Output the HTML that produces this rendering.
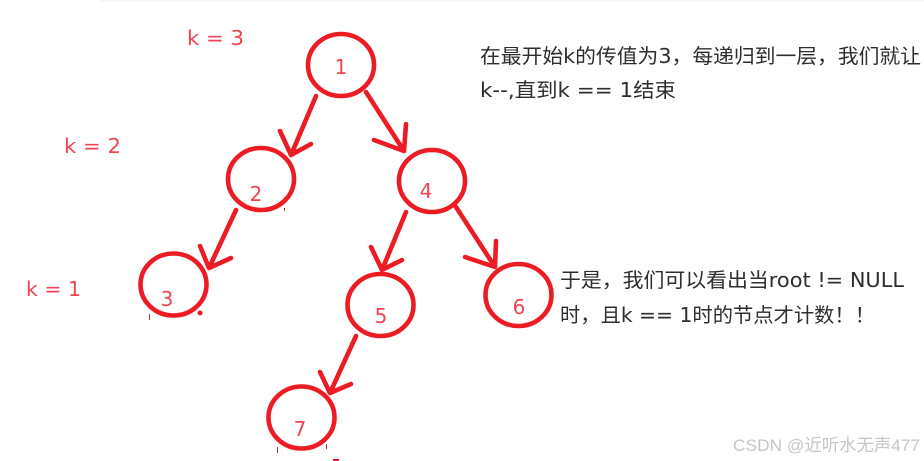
<!DOCTYPE html>
<html><head><meta charset="utf-8">
<style>
html,body{margin:0;padding:0;background:#fff;width:924px;height:461px;overflow:hidden}
svg{display:block}
.r{font-family:"DejaVu Sans","Liberation Sans",sans-serif;fill:#ef4452}
.b{font-family:"DejaVu Sans","Noto Sans CJK SC",sans-serif;fill:#2e2e2e;font-size:20px}
.w{font-family:"Liberation Sans","Noto Sans CJK SC",sans-serif;fill:#c6c6c6;font-size:17px}
</style></head><body>
<svg width="924" height="461" viewBox="0 0 924 461" xmlns="http://www.w3.org/2000/svg">
<defs><filter id="s" x="-5%" y="-20%" width="110%" height="140%"><feGaussianBlur stdDeviation="0.3"/></filter></defs>
<rect x="100" y="0" width="824" height="2" fill="#f6f6f6"/>
<g fill="none" stroke="#ed1c24" stroke-width="4.6" stroke-linecap="round" stroke-linejoin="round">
<ellipse cx="341" cy="65" rx="33" ry="31"/>
<ellipse cx="261" cy="179" rx="33" ry="31"/>
<ellipse cx="432" cy="181" rx="33" ry="31"/>
<ellipse cx="173.500" cy="284.500" rx="33" ry="31"/>
<ellipse cx="380.500" cy="305" rx="33" ry="31"/>
<ellipse cx="301.500" cy="417.500" rx="33" ry="31"/>
<ellipse cx="518.500" cy="295" rx="33" ry="31"/>
<path d="M316 96L291 155M280 131L291 155L311 144"/>
<path d="M366 92L404 151M406 124L404 151L374 140"/>
<path d="M236 210L209 268M200 246L209 268L231 258"/>
<path d="M406 212L382 270M371 247L382 270L402 260"/>
<path d="M456 207L495 267M496 241L495 267L465 257"/>
<path d="M356 336L330 393M320 372L330 393L351 384"/>
</g>
<g fill="#ed1c24">
<rect x="149" y="314" width="1" height="6"/>
<circle cx="200" cy="313" r="2.500"/>
<rect x="284" y="208" width="1" height="3"/>
<rect x="277" y="447" width="1" height="6"/>
<rect x="326" y="444" width="1" height="5"/>
<rect x="333" y="459" width="6" height="2"/>
</g>
<g class="r" filter="url(#s)">
<text x="187" y="45" font-size="20" textLength="57" lengthAdjust="spacingAndGlyphs">k = 3</text>
<text x="64" y="153" font-size="20" textLength="57" lengthAdjust="spacingAndGlyphs">k = 2</text>
<text x="26" y="296" font-size="20" textLength="55" lengthAdjust="spacingAndGlyphs">k = 1</text>
<text x="341" y="74" font-size="20" text-anchor="middle">1</text>
<text x="256" y="201" font-size="20" text-anchor="middle">2</text>
<text x="426" y="198" font-size="20" text-anchor="middle">4</text>
<text x="167" y="306" font-size="20" text-anchor="middle">3</text>
<text x="381" y="323" font-size="20" text-anchor="middle">5</text>
<text x="300" y="436" font-size="20" text-anchor="middle">7</text>
<text x="519" y="314" font-size="20" text-anchor="middle">6</text>
</g>
<g class="b" filter="url(#s)">
<text x="480" y="63" textLength="441" lengthAdjust="spacingAndGlyphs">在最开始k的传值为3，每递归到一层，我们就让</text>
<text x="480" y="97" textLength="196" lengthAdjust="spacingAndGlyphs">k--,直到k == 1结束</text>
<text x="560" y="287" textLength="344" lengthAdjust="spacingAndGlyphs">于是，我们可以看出当root != NULL</text>
<text x="560" y="322" textLength="315" lengthAdjust="spacingAndGlyphs">时，且k == 1时的节点才计数！！</text>
</g>
<text class="w" x="733" y="451" textLength="187" lengthAdjust="spacingAndGlyphs">CSDN @近听水无声477</text>
</svg>
</body></html>
